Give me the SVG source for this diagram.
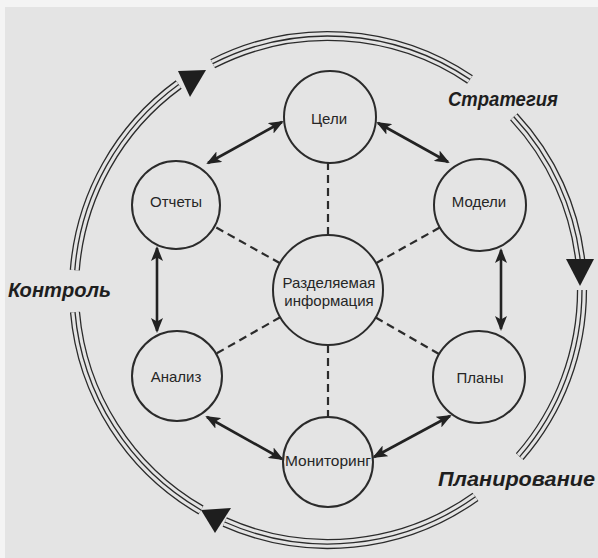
<svg xmlns="http://www.w3.org/2000/svg" width="598" height="558" viewBox="0 0 598 558">
<style>
.bg{fill:#e4e4e4}
.node circle{fill:none;stroke:#2b2b2b;stroke-width:2}
.lbl{font-family:"Liberation Sans",Arial,sans-serif;font-size:15px;fill:#262626;text-anchor:middle}
.phase{font-family:"Liberation Sans",Arial,sans-serif;font-size:20px;font-weight:bold;font-style:italic;fill:#1e1e1e}
.arrow{stroke:#222;stroke-width:2.6;fill:none;marker-start:url(#ah);marker-end:url(#ah)}
.dash{stroke:#2b2b2b;stroke-width:2.2;stroke-dasharray:8 5;fill:none}
.r1{stroke:#2b2b2b;stroke-width:10.2;fill:none}
.r2{stroke:#e4e4e4;stroke-width:7.6;fill:none}
.r3{stroke:#2b2b2b;stroke-width:1.3;fill:none}
.tri{fill:#1e1e1e}
</style>
<defs>
<marker id="ah" viewBox="0 0 15 12" refX="13" refY="6" markerWidth="15" markerHeight="12" markerUnits="userSpaceOnUse" orient="auto-start-reverse">
<path d="M0,0 L15,6 L0,12 L3.5,6 z" fill="#222"/>
</marker>
<path id="segA" d="M212.7,63.7 A254,254 0 0 1 470.0,79.4"/>
<path id="segB" d="M513.8,116.8 A254,254 0 0 1 580.6,263.5"/>
<path id="segC" d="M582,290 A254,254 0 0 1 519.7,456.6"/>
<path id="segD" d="M475.5,496.8 A254,254 0 0 1 224.7,522.0"/>
<path id="segE" d="M201,510 A254,254 0 0 1 75.0,312.1"/>
<path id="segF" d="M74.8,270.1 A254,254 0 0 1 178.7,84.5"/>
</defs>
<rect x="0" y="0" width="598" height="558" fill="#f4f4f4"/>
<rect class="bg" x="5" y="7" width="593" height="551"/>

<g id="cycle">
<use href="#segA" class="r1"/><use href="#segA" class="r2"/><use href="#segA" class="r3"/>
<use href="#segB" class="r1"/><use href="#segB" class="r2"/><use href="#segB" class="r3"/>
<use href="#segC" class="r1"/><use href="#segC" class="r2"/><use href="#segC" class="r3"/>
<use href="#segD" class="r1"/><use href="#segD" class="r2"/><use href="#segD" class="r3"/>
<use href="#segE" class="r1"/><use href="#segE" class="r2"/><use href="#segE" class="r3"/>
<use href="#segF" class="r1"/><use href="#segF" class="r2"/><use href="#segF" class="r3"/>
<polygon class="tri" points="178,71 206,70 190,97"/>
<polygon class="tri" points="566,259 594,259 580,286"/>
<polygon class="tri" points="201,510 231,508 215,533"/>
<text class="phase" x="448" y="106" textLength="110" lengthAdjust="spacingAndGlyphs">Стратегия</text>
<text class="phase" x="438" y="486" textLength="157" lengthAdjust="spacingAndGlyphs">Планирование</text>
<text class="phase" x="8" y="297" textLength="103" lengthAdjust="spacingAndGlyphs">Контроль</text>
</g>

<g id="connectors">
<line class="dash" x1="328" y1="235" x2="328" y2="163"/>
<line class="dash" x1="328" y1="345" x2="328" y2="417"/>
<line class="dash" x1="280" y1="263.2" x2="214.4" y2="226.5"/>
<line class="dash" x1="376" y1="263.2" x2="439.9" y2="227.4"/>
<line class="dash" x1="280.2" y1="317.2" x2="216.1" y2="353.7"/>
<line class="dash" x1="375.7" y1="317.5" x2="439.1" y2="354"/>
<line class="arrow" x1="282" y1="122" x2="208" y2="163"/>
<line class="arrow" x1="378" y1="123" x2="448" y2="162"/>
<line class="arrow" x1="157" y1="248" x2="157" y2="331"/>
<line class="arrow" x1="501" y1="250" x2="501" y2="329"/>
<line class="arrow" x1="207" y1="417" x2="282" y2="459"/>
<line class="arrow" x1="450" y1="416" x2="374" y2="457"/>
</g>

<g id="node-center" class="node">
<circle cx="328" cy="290" r="55"/>
<text class="lbl" x="329" y="288">Разделяемая</text>
<text class="lbl" x="329" y="306">информация</text>
</g>
<g id="node-goals" class="node">
<circle cx="330" cy="117" r="46"/>
<text class="lbl" x="329" y="124">Цели</text>
</g>
<g id="node-models" class="node">
<circle cx="480" cy="205" r="46"/>
<text class="lbl" x="479" y="207">Модели</text>
</g>
<g id="node-reports" class="node">
<circle cx="176" cy="205" r="44"/>
<text class="lbl" x="176" y="207">Отчеты</text>
</g>
<g id="node-analysis" class="node">
<circle cx="177" cy="376" r="45"/>
<text class="lbl" x="176" y="382">Анализ</text>
</g>
<g id="node-plans" class="node">
<circle cx="479" cy="377" r="46"/>
<text class="lbl" x="480" y="383">Планы</text>
</g>
<g id="node-monitoring" class="node">
<circle cx="328" cy="462" r="45"/>
<text class="lbl" x="328" y="466" textLength="86" lengthAdjust="spacingAndGlyphs">Мониторинг</text>
</g>
</svg>
